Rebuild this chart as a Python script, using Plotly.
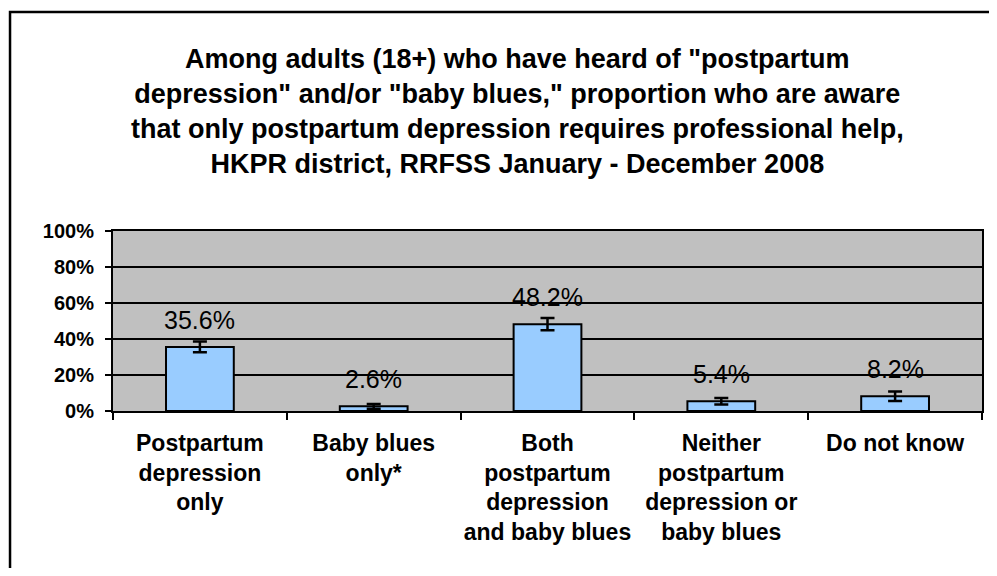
import plotly.graph_objects as go

categories = ["Postpartum<br>depression<br>only", "Baby blues<br>only*",
              "Both<br>postpartum<br>depression<br>and baby blues",
              "Neither<br>postpartum<br>depression or<br>baby blues", "Do not know"]
values = [35.6, 2.6, 48.2, 5.4, 8.2]
errors = [3.0, 1.3, 3.4, 1.8, 2.7]
labels = ["35.6%", "2.6%", "48.2%", "5.4%", "8.2%"]
title_text = ('Among adults (18+) who have heard of "postpartum<br>'
              'depression" and/or "baby blues," proportion who are aware<br>'
              'that only postpartum depression requires professional help,<br>'
              'HKPR district, RRFSS January - December 2008')

fig = go.Figure()
fig.add_trace(go.Bar(
    x=categories, y=values,
    marker=dict(color="#99CCFF", line=dict(color="black", width=2)),
    error_y=dict(type="data", array=errors, visible=True, color="black",
                 thickness=2.5, width=7),
    width=0.39,
    hoverinfo="skip",
))

for c, v, t in zip(categories, values, labels):
    fig.add_annotation(x=c, y=v, text=t, showarrow=False, yshift=27,
                       yanchor="middle", xanchor="center",
                       font=dict(family="Liberation Sans, Arial", size=25, color="black",
                                 weight="normal"))

fig.add_annotation(xref="paper", yref="paper", x=0.465, y=1.665, text=title_text,
                   showarrow=False, xanchor="center", yanchor="middle",
                   font=dict(family="Liberation Sans, Arial", size=27, color="black",
                             weight="bold"))

fig.add_shape(type="rect", xref="paper", yref="paper",
              x0=-0.1185, x1=1.2, y0=-1.5, y1=2.216,
              line=dict(color="black", width=2.5), fillcolor="rgba(0,0,0,0)", layer="below")

fig.update_layout(
    width=981, height=560,
    margin=dict(l=105, r=7, t=223, b=157, autoexpand=False),
    paper_bgcolor="white", plot_bgcolor="#C0C0C0",
    showlegend=False,
    font=dict(family="Liberation Sans, Arial", color="black"),
    xaxis=dict(type="category", showline=True, linecolor="black", linewidth=2,
               mirror=True, ticks="outside", tickson="boundaries", ticklen=7,
               tickwidth=2, tickcolor="black", showgrid=False, ticklabelstandoff=10,
               tickangle=0,
               tickfont=dict(family="Liberation Sans, Arial", size=23, color="black",
                             weight="bold")),
    yaxis=dict(range=[0, 100], dtick=20, ticksuffix="%", showline=True,
               linecolor="black", linewidth=2, mirror=True, ticks="outside",
               ticklen=6, tickwidth=2, tickcolor="black", showgrid=True,
               gridcolor="black", gridwidth=2, zeroline=False, ticklabelstandoff=7,
               tickfont=dict(family="Liberation Sans, Arial", size=20, color="black",
                             weight="bold")),
)

fig.write_html("out.html")
